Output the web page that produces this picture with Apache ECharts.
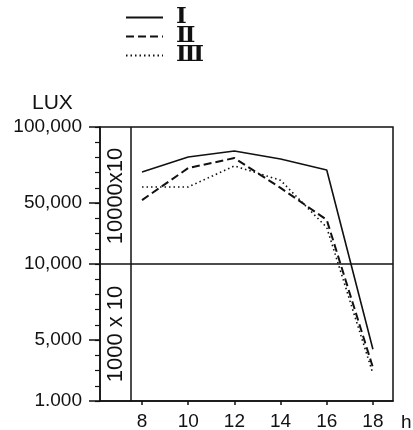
<!DOCTYPE html>
<html>
<head>
<meta charset="utf-8">
<script src="https://cdn.jsdelivr.net/npm/echarts@6/dist/echarts.min.js"></script>
<style>html,body{margin:0;background:#fff}#chart{width:413px;height:430px}</style>
</head>
<body>
<div id="chart"></div>
<script>
const hours = [8, 10, 12, 14, 16, 18];
const luxI = [70400, 80300, 84200, 79000, 71800, 4400];
const luxII = [52000, 73000, 79600, 60000, 39000, 3200];
const luxIII = [60600, 60600, 74400, 65000, 34000, 2800];
const seriesNames = ['Ⅰ', 'Ⅱ', 'Ⅲ'];
const yTickLux = [1000, 5000, 10000, 50000, 100000];
const yTickLabels = ['1.000', '5,000', '10,000', '50,000', '100,000'];
const xTicks = [8, 10, 12, 14, 16, 18];

// axis is two linear halves: 1000..10000 (x10) and 10000..100000, 9 units each
function toAxis(lux) {
    return lux <= 10000 ? (lux - 1000) / 1000 : 9 + (lux - 10000) / 10000;
}
const yMajor = yTickLux.map(toAxis);

function pts(vals) {
    return hours.map((h, i) => [h, toAxis(vals[i])]);
}

const font = 'Liberation Sans';
const black = '#111';

let myChart = echarts.init(document.getElementById('chart'));
myChart.setOption({
    animation: false,
    backgroundColor: '#fff',
    textStyle: { fontFamily: font, color: black },
    title: {
        text: 'LUX', left: 27, top: 88,
        textStyle: { fontFamily: font, fontSize: 21, fontWeight: 'normal', color: black }
    },
    legend: {
        orient: 'vertical', left: 120, top: 1,
        itemWidth: 37, itemHeight: 14, itemGap: -4,
        itemStyle: { opacity: 0 },
        textStyle: {
            fontFamily: 'DejaVu Serif', fontSize: 23, fontWeight: 'bold', color: black,
            lineHeight: 18, padding: [0, 0, 0, 8]
        },
        data: seriesNames
    },
    grid: {
        left: 100, right: 20, top: 127, bottom: 29,
        show: true, borderColor: black, borderWidth: 1.5,
        outerBoundsMode: 'none'
    },
    xAxis: {
        type: 'value', min: 6.18, max: 18.87,
        name: 'h', nameLocation: 'end', nameGap: 8,
        nameTextStyle: { fontFamily: font, fontSize: 19, color: black, verticalAlign: 'top', padding: [12, 0, 0, 0] },
        axisLine: { lineStyle: { color: black, width: 1.5 } },
        axisTick: { customValues: xTicks, length: 4, lineStyle: { color: black, width: 1.5 } },
        axisLabel: { customValues: xTicks, fontFamily: font, fontSize: 19, color: black, margin: 11 },
        splitLine: { show: false }
    },
    yAxis: [{
        type: 'value', min: 0, max: 18, interval: 1,
        axisLine: { show: true, lineStyle: { color: black, width: 1.5 } },
        axisTick: { length: 5, lineStyle: { color: black, width: 1.2 } },
        axisLabel: { show: false },
        splitLine: { show: false }
    }, {
        type: 'value', min: 0, max: 18, position: 'left',
        axisLine: { show: false },
        axisTick: { customValues: yMajor, length: 11, lineStyle: { color: black, width: 1.5 } },
        axisLabel: {
            customValues: yMajor, fontFamily: font, fontSize: 19, color: black, margin: 18,
            formatter: v => yTickLabels[yMajor.indexOf(v)]
        },
        splitLine: { show: false }
    }],
    graphic: [{
        type: 'text', x: 116, y: 196, rotation: Math.PI / 2,
        style: { text: '10000x10', font: '22px "Liberation Sans"', fill: black, align: 'center', verticalAlign: 'middle' }
    }, {
        type: 'text', x: 116, y: 334, rotation: Math.PI / 2,
        style: { text: '1000 x 10', font: '22px "Liberation Sans"', fill: black, align: 'center', verticalAlign: 'middle' }
    }],
    series: [{
        name: seriesNames[0], type: 'line', data: pts(luxI), symbol: 'none',
        lineStyle: { color: black, width: 1.6, type: 'solid' },
        itemStyle: { color: black },
        markLine: {
            silent: true, symbol: 'none', label: { show: false },
            lineStyle: { color: black, width: 1.5, type: 'solid' },
            data: [{ xAxis: 7.5 }, { yAxis: toAxis(10000) }]
        }
    }, {
        name: seriesNames[1], type: 'line', data: pts(luxII), symbol: 'none',
        lineStyle: { color: black, width: 2, type: [8, 4] },
        itemStyle: { color: black }
    }, {
        name: seriesNames[2], type: 'line', data: pts(luxIII), symbol: 'none',
        lineStyle: { color: black, width: 1.6, type: [1.5, 3] },
        itemStyle: { color: black }
    }]
});
window.addEventListener('resize', function () {
    myChart.resize();
});
</script>
</body>
</html>
